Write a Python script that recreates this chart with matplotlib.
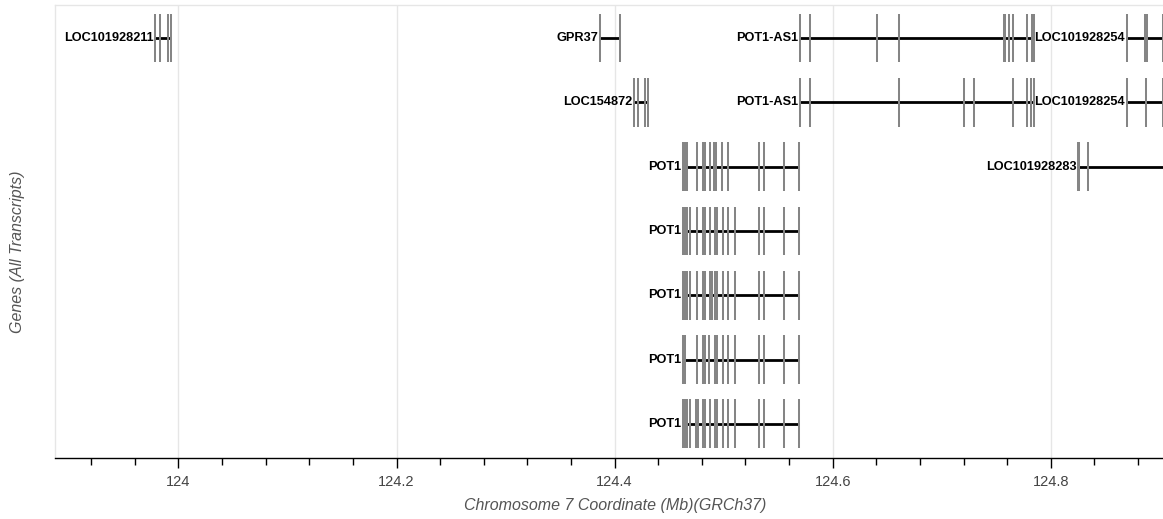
import matplotlib
matplotlib.use("Agg")
import matplotlib.pyplot as plt
from matplotlib.ticker import MultipleLocator, FuncFormatter

plt.rcParams['font.family'] = ['Liberation Sans', 'DejaVu Sans']

# ---------------- data ----------------
gene_names = ["LOC101928211", "GPR37", "POT1-AS1", "LOC101928254",
              "LOC154872", "POT1-AS1", "LOC101928254",
              "POT1", "LOC101928283",
              "POT1", "POT1", "POT1", "POT1"]
gene_rows = [0, 0, 0, 0,
             1, 1, 1,
             2, 2,
             3, 4, 5, 6]
gene_starts = [123.9786, 124.3867, 124.5701, 124.8695,
               124.4179, 124.5701, 124.8695,
               124.4624, 124.8252,
               124.4624, 124.4624, 124.4624, 124.4624]
gene_ends = [123.9930, 124.4051, 124.7844, 124.95,
             124.4302, 124.7844, 124.95,
             124.5695, 124.95,
             124.5695, 124.5695, 124.5695, 124.5695]

pot1_core = [124.4624, 124.4646, 124.4668]
gene_exons = [
    [123.9786, 123.9832, 123.9908, 123.9930],
    [124.3867, 124.4051],
    [124.5701, 124.5796, 124.6408, 124.6604, 124.7568, 124.7584, 124.7618,
     124.7655, 124.7786, 124.7829, 124.7844],
    [124.8695, 124.8861, 124.8870, 124.8882, 124.9032],
    [124.4179, 124.4216, 124.4277, 124.4302],
    [124.5701, 124.5796, 124.6604, 124.7205, 124.7296, 124.7655, 124.7786,
     124.7823, 124.7844],
    [124.8695, 124.8877, 124.9032],
    pot1_core + [124.4752, 124.4813, 124.4829, 124.4874, 124.4914, 124.4930,
                 124.4982, 124.5037, 124.5322, 124.5373, 124.5557, 124.5695],
    [124.8252, 124.8258, 124.8344],
    pot1_core + [124.4690, 124.4752, 124.4813, 124.4829, 124.4874,
                 124.4919, 124.4935, 124.4991, 124.5042, 124.5107, 124.5322,
                 124.5373, 124.5557, 124.5695],
    pot1_core + [124.4690, 124.4752, 124.4813, 124.4829, 124.4874,
                 124.4890, 124.4919, 124.4935, 124.4991, 124.5042, 124.5107,
                 124.5322, 124.5373, 124.5557, 124.5695],
    [124.4624, 124.4644,
     124.4752, 124.4813, 124.4829, 124.4868, 124.4919, 124.4935, 124.4991,
     124.5042, 124.5107, 124.5322, 124.5373, 124.5557, 124.5695],
    pot1_core + [124.4690, 124.4746, 124.4761, 124.4813, 124.4829,
                 124.4874, 124.4919, 124.4935, 124.4991, 124.5042, 124.5107,
                 124.5322, 124.5373, 124.5557, 124.5695],
]

major_ticks = [124.0, 124.2, 124.4, 124.6, 124.8]
x_label = "Chromosome 7 Coordinate (Mb)(GRCh37)"
y_label = "Genes (All Transcripts)"

# ---------------- figure ----------------
W, H = 1163, 519
fig = plt.figure(figsize=(W / 100, H / 100), dpi=100)
ax = fig.add_axes([55 / W, 1 - 458 / H, (W - 55) / W + 0.01, (458 - 5) / H])

ax.set_xlim(123.8868, 124.9136)
ax.set_ylim(6.53, -0.513)

for gx in major_ticks:
    ax.axvline(gx, color='#e6e6e6', lw=1.0, zorder=0)

exon_half = 0.38
for name, row, s, e, exons in zip(gene_names, gene_rows, gene_starts, gene_ends, gene_exons):
    ax.hlines(row, s, e, colors='black', lw=2.0, zorder=2)
    ax.vlines(exons, row - exon_half, row + exon_half, colors='#858585', lw=1.45, zorder=3)
    ax.annotate(name, xy=(s, row), xytext=(-1.2, 0), textcoords='offset points',
                ha='right', va='center', fontsize=9.2, fontweight='bold',
                color='black', zorder=4)

ax.set_yticks([])
ax.xaxis.set_major_locator(MultipleLocator(0.2))
ax.xaxis.set_minor_locator(MultipleLocator(0.04))
ax.xaxis.set_major_formatter(FuncFormatter(lambda v, p: f"{v:g}"))
ax.tick_params(axis='x', which='major', length=7, width=1, color='black',
               labelsize=10.5, labelcolor='#444444', pad=5)
ax.tick_params(axis='x', which='minor', length=5, width=1, color='black')

for side in ['top', 'left', 'right']:
    ax.spines[side].set_color('#e6e6e6')
    ax.spines[side].set_linewidth(1.0)
ax.spines['bottom'].set_color('black')
ax.spines['bottom'].set_linewidth(1.0)

ax.set_xlabel(x_label, fontsize=11.5, style='italic', color='#555555', labelpad=7)
fig.text(18 / W, 1 - 252 / H, y_label, rotation=90, ha='center', va='center',
         fontsize=11.5, style='italic', color='#555555')

fig.savefig("out.png", dpi=100)
